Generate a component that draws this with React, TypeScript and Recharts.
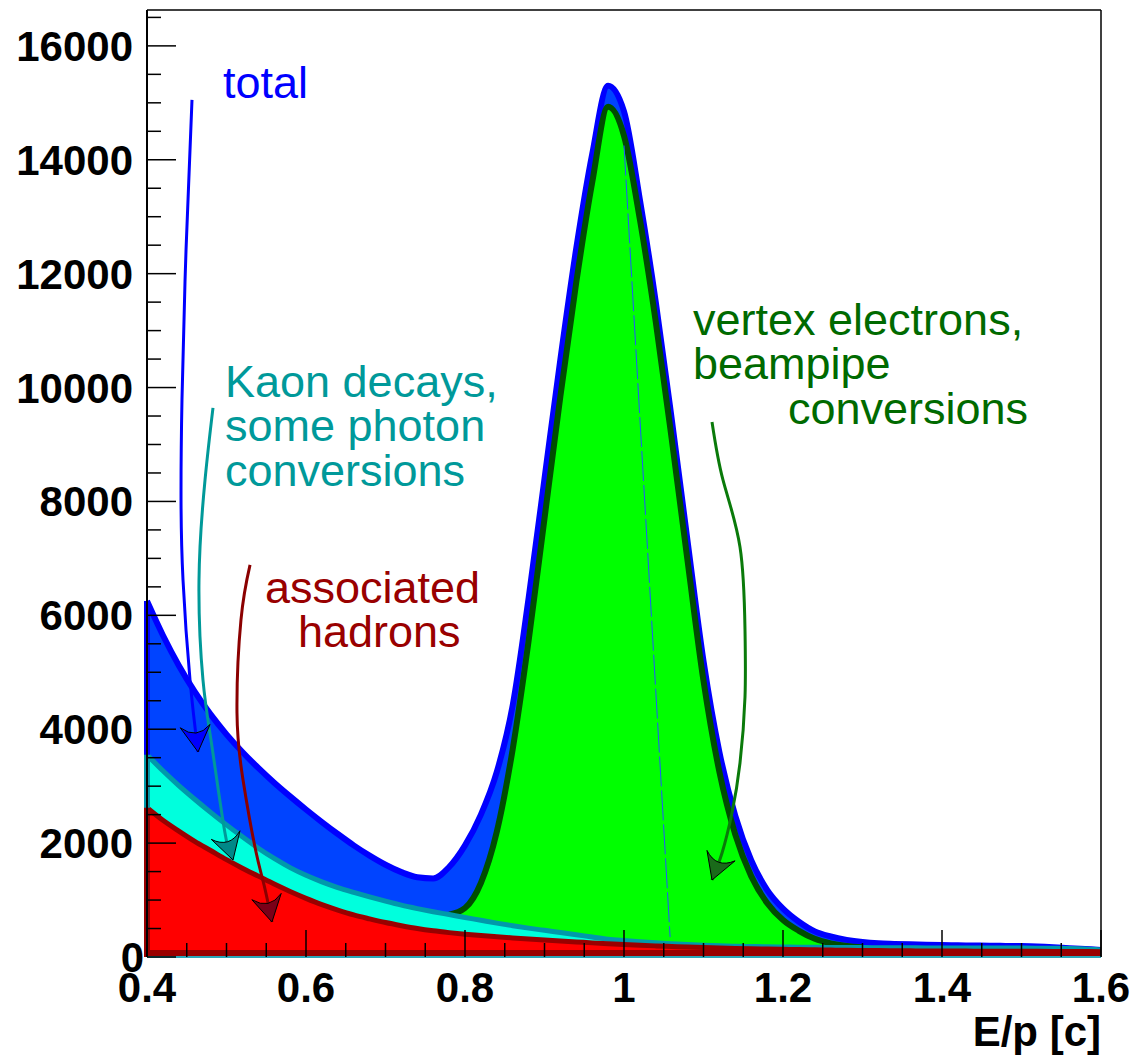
import React from 'react';
import { ComposedChart, Area, Line, XAxis, YAxis, ReferenceLine, ReferenceDot, Label } from 'recharts';

// E/p bin centres
const X_VALUES = [
  0.40, 0.42, 0.44, 0.46, 0.48, 0.50, 0.52, 0.54, 0.56, 0.58,
  0.60, 0.62, 0.64, 0.66, 0.68, 0.70, 0.72, 0.74, 0.76, 0.78,
  0.80, 0.82, 0.84, 0.86, 0.88, 0.90, 0.92, 0.94, 0.96, 0.98,
  1.00, 1.02, 1.04, 1.06, 1.08, 1.10, 1.12, 1.14, 1.16, 1.18,
  1.20, 1.22, 1.24, 1.26, 1.28, 1.30, 1.32, 1.34, 1.36, 1.38,
  1.40, 1.42, 1.44, 1.46, 1.48, 1.50, 1.52, 1.54, 1.56, 1.58, 1.60,
];

// associated hadrons (stacked top)
const HADRONS = [
  2620, 2400, 2210, 2030, 1870, 1710, 1560, 1420, 1280, 1150,
  1030, 920, 825, 740, 670, 605, 550, 500, 460, 428,
  400, 376, 355, 335, 316, 298, 281, 265, 248, 233,
  219, 206, 195, 185, 175, 166, 158, 151, 145, 140,
  135, 130, 126, 122, 118, 115, 112, 110, 108, 106,
  105, 104, 103, 102, 101, 100, 99, 98, 96, 95, 93,
];

// Kaon decays, some photon conversions (stacked top)
const KAON_TOP = [
  3550, 3270, 3010, 2770, 2540, 2320, 2110, 1910, 1730, 1570,
  1435, 1320, 1220, 1135, 1055, 980, 910, 850, 795, 745,
  695, 645, 595, 550, 507, 468, 430, 392, 350, 312,
  288, 268, 250, 234, 218, 205, 196, 190, 185, 180,
  176, 172, 170, 168, 166, 165, 163, 162, 161, 160,
  160, 159, 158, 158, 157, 157, 155, 152, 148, 140, 125,
];

// vertex electrons, beampipe conversions (stacked top)
const ELECTRON_TOP = [
  null, null, null, null, null, null, null, null, null, null,
  null, null, null, null, null, null, null, null, null, 745,
  860, 1300, 2200, 3650, 5550, 7700, 9850, 11850, 13600, 14930,
  14420, 12950, 11150, 9100, 6950, 4850, 3250, 2150, 1420, 950,
  650, 460, 320, 240, 195, 172, null, null, null, null,
  null, null, null, null, null, null, null, null, null, null, null,
];

// total
const TOTAL = [
  6250, 5650, 5120, 4660, 4260, 3910, 3600, 3320, 3060, 2820,
  2590, 2370, 2160, 1960, 1780, 1620, 1490, 1400, 1380, 1580,
  1960, 2500, 3250, 4420, 6300, 8400, 10500, 12450, 14100, 15300,
  14850, 13300, 11500, 9450, 7300, 5200, 3600, 2480, 1700, 1180,
  850, 620, 450, 360, 300, 262, 240, 230, 222, 215,
  210, 206, 202, 198, 195, 192, 185, 172, 155, 140, 125,
];

const Y_TICKS = [
  0, 500, 1000, 1500, 2000, 2500, 3000, 3500, 4000, 4500, 5000, 5500,
  6000, 6500, 7000, 7500, 8000, 8500, 9000, 9500, 10000, 10500, 11000,
  11500, 12000, 12500, 13000, 13500, 14000, 14500, 15000, 15500, 16000, 16500,
];
const X_TICKS = [
  0.4, 0.45, 0.5, 0.55, 0.6, 0.65, 0.7, 0.75, 0.8, 0.85, 0.9, 0.95, 1.0,
  1.05, 1.1, 1.15, 1.2, 1.25, 1.3, 1.35, 1.4, 1.45, 1.5, 1.55, 1.6,
];

// annotation arrows (data coordinates)
const ARROW_TOTAL = [
  { x: 0.4566, y: 15051 }, { x: 0.4491, y: 12417 }, { x: 0.4440, y: 9783 },
  { x: 0.4428, y: 8027 }, { x: 0.4453, y: 6621 }, { x: 0.4541, y: 4865 }, { x: 0.4642, y: 3601 },
];
const ARROW_KAON = [
  { x: 0.4830, y: 9642 }, { x: 0.4730, y: 8378 }, { x: 0.4654, y: 6621 },
  { x: 0.4704, y: 4865 }, { x: 0.4818, y: 3688 }, { x: 0.4981, y: 2178 }, { x: 0.5082, y: 1704 },
];
const ARROW_HADRONS = [
  { x: 0.5296, y: 6885 }, { x: 0.5182, y: 5919 }, { x: 0.5132, y: 4285 },
  { x: 0.5208, y: 3109 }, { x: 0.5358, y: 1932 }, { x: 0.5472, y: 1265 }, { x: 0.5572, y: 615 },
];
const ARROW_ELECTRONS = [
  { x: 1.1107, y: 9396 }, { x: 1.1245, y: 8378 }, { x: 1.1459, y: 7201 },
  { x: 1.1522, y: 5743 }, { x: 1.1522, y: 4566 }, { x: 1.1459, y: 3407 },
  { x: 1.1358, y: 2529 }, { x: 1.1233, y: 1827 }, { x: 1.1107, y: 1352 },
];

const TEXT_TOTAL = ['total'];
const TEXT_KAON = ['Kaon decays,', 'some photon', 'conversions'];
const TEXT_HADRONS = ['associated', 'hadrons'];
const TEXT_ELECTRONS = ['vertex electrons,', 'beampipe', 'conversions'];

const FONT = "'Liberation Sans', Arial, Helvetica, sans-serif";

const rows = X_VALUES.map((x, i) => ({
  x,
  hadrons: HADRONS[i],
  kaon: KAON_TOP[i],
  electrons: ELECTRON_TOP[i],
  total: TOTAL[i],
}));

const YTick = (props: any) => {
  const { x, y, payload } = props;
  const v = payload.value;
  const major = v % 2000 === 0;
  return (
    <g>
      <line x1={x} x2={x + (major ? 29 : 14)} y1={y} y2={y} stroke="#000" strokeWidth={1.5} />
      {major && (
        <text x={v === 0 ? x - 3 : x - 14} y={y + 15} textAnchor="end" fontFamily={FONT}
          fontWeight="bold" fontSize={42} fill="#000">{v}</text>
      )}
    </g>
  );
};

const XTick = (props: any) => {
  const { x, y, payload } = props;
  const r = Math.round(payload.value * 100);
  const major = r % 20 === 0;
  return (
    <g>
      <line x1={x} x2={x} y1={y} y2={y - (major ? 27 : 14)} stroke="#000" strokeWidth={1.5} />
      {major && (
        <text x={x} y={y + 45} textAnchor="middle" fontFamily={FONT} fontWeight="bold"
          fontSize={42} fill="#000">{String(r / 100)}</text>
      )}
    </g>
  );
};

const arrowHead = (fill: string) => (props: any) => {
  const { cx, cy, index, points } = props;
  const k = `dot-${index}`;
  if (!points || index !== points.length - 1) return <g key={k} />;
  const prev = points[points.length - 2];
  const dx = cx - prev.x;
  const dy = cy - prev.y;
  const len = Math.hypot(dx, dy) || 1;
  const ux = dx / len;
  const uy = dy / len;
  const px = -uy;
  const py = ux;
  const L = 26;
  const W = 15;
  const bx = cx - ux * L;
  const by = cy - uy * L;
  const c1x = bx + px * W, c1y = by + py * W;
  const c2x = bx - px * W, c2y = by - py * W;
  const qx = cx - ux * 12, qy = cy - uy * 12;
  return (
    <path key={k} d={`M${cx},${cy} L${c1x},${c1y} Q${qx},${qy} ${c2x},${c2y} Z`}
      fill={fill} stroke="#000" strokeWidth={1} strokeLinejoin="miter" />
  );
};

const textShape = (lines: string[], color: string, indents: number[]) => (p: any) => (
  <text fontFamily={FONT} fontSize={45} fill={color}>
    {lines.map((t, i) => (
      <tspan key={i} x={p.cx + (indents[i] || 0)} y={p.cy + i * 44.5}>{t}</tspan>
    ))}
  </text>
);

export default function App() {
  return (
    <div style={{ position: 'absolute', left: 0, top: 0, background: '#fff' }}>
      <ComposedChart width={1136} height={1055} data={rows}
        margin={{ top: 10, right: 35, bottom: 0, left: 0 }}>
        <XAxis type="number" dataKey="x" domain={[0.4, 1.6]} ticks={X_TICKS} interval={0}
          allowDataOverflow tick={<XTick />} tickLine={false} tickSize={0} tickMargin={0}
          axisLine={{ stroke: '#2aa6b8', strokeWidth: 2 }} height={98}>
          <Label content={(p: any) => {
            const vb = p.viewBox || { x: 147, y: 957, width: 954, height: 98 };
            return (
              <text x={vb.x + vb.width} y={vb.y + 89} textAnchor="end" fontFamily={FONT}
                fontWeight="bold" fontSize={42} fill="#000">E/p [c]</text>
            );
          }} />
        </XAxis>
        <YAxis type="number" domain={[0, 16630]} ticks={Y_TICKS} interval={0} allowDataOverflow
          tick={<YTick />} tickLine={false} tickSize={0} tickMargin={0}
          axisLine={{ stroke: '#000', strokeWidth: 2 }} width={147} />

        <Area type="monotone" dataKey="total" stroke="#0000ff" strokeWidth={6} fill="#0044ff"
          fillOpacity={1} isAnimationActive={false} dot={false} activeDot={false} />
        <Area type="monotone" dataKey="electrons" stroke="#004d00" strokeWidth={6} fill="#00ff00"
          fillOpacity={1} isAnimationActive={false} dot={false} activeDot={false} />
        <Area type="monotone" dataKey="kaon" stroke="#0099aa" strokeWidth={5} fill="#00ffdd"
          fillOpacity={1} isAnimationActive={false} dot={false} activeDot={false} />
        <Area type="monotone" dataKey="hadrons" stroke="#990000" strokeWidth={5} fill="#ff0000"
          fillOpacity={1} isAnimationActive={false} dot={false} activeDot={false} />

        <ReferenceLine segment={[{ x: 1.0, y: 14250 }, { x: 1.058, y: 350 }]} stroke="#2255ff"
          strokeWidth={1} strokeDasharray="30 4" />
        <ReferenceLine segment={[{ x: 0.4, y: 0 }, { x: 0.4, y: 6250 }]} stroke="#0000ff" strokeWidth={6} />
        <ReferenceLine segment={[{ x: 0.4, y: 0 }, { x: 0.4, y: 3550 }]} stroke="#0099aa" strokeWidth={6} />
        <ReferenceLine segment={[{ x: 0.4, y: 0 }, { x: 0.4, y: 2620 }]} stroke="#990000" strokeWidth={6} />
        <ReferenceLine y={0} stroke="#990000" strokeWidth={14} ifOverflow="hidden" />
        <ReferenceLine y={16630} stroke="#000" strokeWidth={1.5} />
        <ReferenceLine x={1.6} stroke="#000" strokeWidth={1.5} />

        <Line data={ARROW_TOTAL} dataKey="y" type="natural" stroke="#0000ff" strokeWidth={3}
          dot={arrowHead('#0000ff')} activeDot={false} isAnimationActive={false} />
        <Line data={ARROW_KAON} dataKey="y" type="natural" stroke="#009999" strokeWidth={3}
          dot={arrowHead('#008888')} activeDot={false} isAnimationActive={false} />
        <Line data={ARROW_HADRONS} dataKey="y" type="natural" stroke="#8b0000" strokeWidth={3}
          dot={arrowHead('#7a0018')} activeDot={false} isAnimationActive={false} />
        <Line data={ARROW_ELECTRONS} dataKey="y" type="natural" stroke="#0a7a0a" strokeWidth={3}
          dot={arrowHead('#1a6a1a')} activeDot={false} isAnimationActive={false} />

        <ReferenceDot x={0.4956} y={15087} r={0} ifOverflow="visible"
          shape={textShape(TEXT_TOTAL, '#0000ff', [0])} />
        <ReferenceDot x={0.4981} y={9835} r={0} ifOverflow="visible"
          shape={textShape(TEXT_KAON, '#00999a', [0, 0, 0])} />
        <ReferenceDot x={0.5484} y={6217} r={0} ifOverflow="visible"
          shape={textShape(TEXT_HADRONS, '#990000', [0, 33])} />
        <ReferenceDot x={1.0868} y={10924} r={0} ifOverflow="visible"
          shape={textShape(TEXT_ELECTRONS, '#006a00', [0, 0, 95])} />
      </ComposedChart>
    </div>
  );
}
